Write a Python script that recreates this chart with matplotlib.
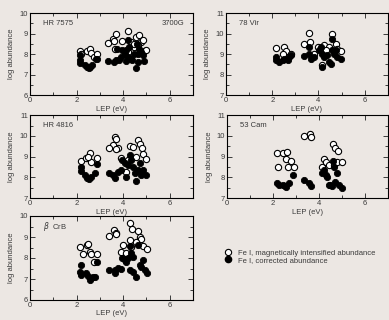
import matplotlib
matplotlib.use("Agg")
import matplotlib.pyplot as plt
from matplotlib.lines import Line2D
from matplotlib.ticker import MultipleLocator

plt.rcParams['font.family'] = ['Liberation Sans', 'DejaVu Sans']

BG = "#ece7e3"
INK = "#3a3a3a"

# ---------------- data ----------------
# HR 7575
hr7575_open_x = [2.17, 2.2, 2.43, 2.57, 2.63, 2.75, 2.86, 3.35, 3.58, 3.68, 3.61, 3.67, 3.94, 4.23,
                 4.36, 4.55, 4.7, 4.77, 4.84, 4.91, 4.99, 4.62, 4.45, 4.19, 4.48]
hr7575_open_y = [8.15, 8.0, 8.15, 8.25, 8.07, 7.86, 7.99, 8.56, 8.72, 8.96, 8.64, 8.27, 8.64, 9.13,
                 8.59, 8.83, 8.92, 8.59, 8.70, 8.15, 8.19, 8.43, 8.35, 8.1, 8.5]
hr7575_fill_x = [2.17, 2.14, 2.17, 2.38, 2.46, 2.53, 2.6, 2.67, 2.82, 2.89, 3.35, 3.61, 3.68, 3.82,
                 3.9, 4.07, 4.12, 4.19, 4.26, 4.19, 4.33, 4.4, 4.12, 4.55, 4.62, 4.65, 4.69, 4.77,
                 4.84, 4.91, 4.59, 4.45, 3.97, 3.75]
hr7575_fill_y = [7.94, 7.7, 7.57, 7.46, 7.38, 7.3, 7.38, 7.49, 7.78, 7.78, 7.65, 7.62, 7.7, 7.73,
                 7.86, 8.02, 8.19, 8.67, 8.35, 7.86, 7.78, 7.7, 7.65, 7.3, 7.62, 8.02, 8.27, 8.1,
                 7.94, 7.65, 8.5, 8.02, 8.19, 8.27]

# 78 Vir
vir_open_x = [2.17, 2.53, 2.6, 2.46, 2.81, 3.39, 3.6, 3.64, 3.96, 4.17, 4.24, 4.46, 4.6, 4.74,
              4.81, 4.96, 3.81, 4.31]
vir_open_y = [9.3, 9.35, 9.15, 9.02, 9.02, 9.48, 10.03, 9.59, 9.35, 8.46, 9.43, 9.35, 10.0, 9.51,
              9.27, 9.15, 9.02, 9.18]
vir_fill_x = [2.17, 2.17, 2.31, 2.46, 2.53, 2.67, 2.74, 2.81, 3.39, 3.6, 3.67, 3.6, 3.81, 4.03,
              4.17, 4.17, 4.24, 4.39, 4.46, 4.53, 4.6, 4.6, 4.67, 4.81, 4.96, 4.1, 4.74]
vir_fill_y = [8.86, 8.7, 8.62, 8.7, 8.78, 8.7, 8.86, 8.94, 8.9, 9.02, 8.78, 9.35, 8.86, 9.18,
              9.02, 8.38, 8.86, 8.94, 8.62, 8.54, 9.18, 9.75, 9.02, 8.86, 8.78, 9.35, 9.18]

# HR 4816
hr4816_open_x = [2.21, 2.4, 2.57, 2.64, 2.5, 2.86, 3.79, 3.64, 3.71, 3.57, 3.71, 3.4, 3.93, 4.19,
                 4.29, 4.43, 4.64, 4.74, 4.83, 4.86, 5.0, 4.57, 4.14]
hr4816_open_y = [8.79, 8.92, 9.19, 8.76, 9.0, 8.95, 9.4, 9.93, 9.83, 9.56, 9.35, 9.4, 8.95, 8.84,
                 9.51, 9.45, 9.8, 9.59, 9.4, 9.11, 8.87, 9.0, 8.28]
hr4816_fill_x = [2.21, 2.21, 2.36, 2.43, 2.54, 2.64, 2.79, 2.86, 3.4, 3.57, 3.64, 3.79, 3.93, 3.97,
                 4.14, 4.21, 4.29, 4.36, 4.43, 4.5, 4.57, 4.64, 4.71, 4.79, 4.86, 5.0, 4.07]
hr4816_fill_y = [8.52, 8.33, 8.12, 7.96, 7.93, 8.04, 8.2, 8.63, 8.23, 8.12, 7.96, 8.28, 8.36, 8.84,
                 8.04, 8.6, 9.08, 8.84, 8.52, 8.2, 7.83, 8.36, 8.68, 8.12, 8.36, 8.12, 8.68]

# 53 Cam
cam_open_x = [2.19, 2.43, 2.61, 2.57, 2.79, 2.21, 2.64, 2.9, 3.36, 3.61, 3.67, 4.14, 4.21, 4.29,
              4.43, 4.61, 4.71, 4.81, 4.64, 4.79, 5.0]
cam_open_y = [9.16, 9.16, 9.24, 8.89, 8.79, 8.49, 8.49, 8.49, 9.99, 10.07, 9.93, 8.52, 8.89, 8.73,
              8.6, 9.59, 9.43, 9.27, 8.6, 8.73, 8.73]
cam_fill_x = [2.19, 2.24, 2.43, 2.5, 2.57, 2.71, 2.86, 3.36, 3.57, 3.64, 4.14, 4.21, 4.29, 4.36,
              4.43, 4.57, 4.61, 4.64, 4.71, 4.79, 4.86, 5.0, 4.5]
cam_fill_y = [7.72, 7.64, 7.64, 7.56, 7.52, 7.72, 8.12, 7.88, 7.72, 7.56, 8.2, 8.36, 8.12, 8.04,
              7.64, 7.56, 8.79, 8.52, 7.76, 8.2, 7.64, 7.48, 7.64]

# beta CrB
crb_open_x = [2.17, 2.26, 2.43, 2.5, 2.57, 2.64, 2.86, 2.74, 3.4, 3.61, 3.69, 3.71, 3.9, 4.0,
              4.14, 4.29, 4.4, 4.64, 4.71, 4.79, 4.57, 4.86, 5.03, 4.29, 4.36]
crb_open_y = [8.51, 8.19, 8.62, 8.65, 8.3, 8.17, 8.19, 7.83, 9.05, 9.33, 9.21, 9.13, 8.3, 8.62,
              8.25, 9.68, 9.37, 9.29, 8.98, 8.89, 8.78, 8.57, 8.41, 8.86, 8.54]
crb_fill_x = [2.21, 2.17, 2.21, 2.4, 2.5, 2.57, 2.69, 2.79, 2.86, 3.4, 3.64, 3.64, 3.79, 3.93,
              3.97, 4.14, 4.21, 4.29, 4.36, 4.43, 4.29, 4.43, 4.57, 4.64, 4.71, 4.79, 4.86, 4.93,
              5.03, 4.07]
crb_fill_y = [7.67, 7.35, 7.19, 7.3, 7.14, 6.95, 7.08, 7.11, 7.83, 7.43, 7.27, 7.43, 7.51, 7.46,
              7.98, 7.83, 7.98, 8.57, 8.22, 8.06, 7.43, 7.35, 7.11, 8.62, 7.67, 7.59, 7.9, 7.43,
              7.3, 7.9]

# ---------------- figure ----------------
fig = plt.figure(figsize=(3.89, 3.2), dpi=100, facecolor=BG)

panels = [
    # rect, name, ylim, open, filled, extra label
    ([0.077, 0.703, 0.419, 0.256], "HR 7575", (6, 10), hr7575_open_x, hr7575_open_y,
     hr7575_fill_x, hr7575_fill_y, "3700G"),
    ([0.581, 0.703, 0.416, 0.256], "78 Vir", (7, 11), vir_open_x, vir_open_y,
     vir_fill_x, vir_fill_y, None),
    ([0.077, 0.381, 0.419, 0.259], "HR 4816", (7, 11), hr4816_open_x, hr4816_open_y,
     hr4816_fill_x, hr4816_fill_y, None),
    ([0.584, 0.381, 0.413, 0.259], "53 Cam", (7, 11), cam_open_x, cam_open_y,
     cam_fill_x, cam_fill_y, None),
    ([0.077, 0.0625, 0.419, 0.2625], r"$\beta$  CrB", (6, 10), crb_open_x, crb_open_y,
     crb_fill_x, crb_fill_y, None),
]

fs = 5.5
ms = 4.5
for rect, name, ylim, ox, oy, fx, fy, extra in panels:
    ax = fig.add_axes(rect)
    ax.set_facecolor(BG)
    ax.plot(ox, oy, 'o', ms=ms, mfc='white', mec='black', mew=0.8, ls='none')
    ax.plot(fx, fy, 'o', ms=ms, mfc='black', mec='black', mew=0.6, ls='none')
    ax.set_xlim(0, 7)
    ax.set_ylim(*ylim)
    ax.xaxis.set_major_locator(MultipleLocator(2))
    ax.xaxis.set_minor_locator(MultipleLocator(1))
    ax.yaxis.set_major_locator(MultipleLocator(1))
    ax.yaxis.set_minor_locator(MultipleLocator(0.5))
    ax.tick_params(which='both', direction='in', top=True, right=True,
                   labelsize=fs, colors=INK, pad=1.5, width=0.7)
    ax.tick_params(which='major', length=3.5)
    ax.tick_params(which='minor', length=2)
    for s in ax.spines.values():
        s.set_linewidth(0.8)
        s.set_color('black')
    ax.set_xlabel("LEP (eV)", fontsize=fs, color=INK, labelpad=1)
    ax.set_ylabel("log abundance", fontsize=fs, color=INK, labelpad=3)
    ax.text(0.08, 0.87, name, transform=ax.transAxes, fontsize=fs, color=INK, va='center')
    if extra:
        ax.text(0.95, 0.87, extra, transform=ax.transAxes, fontsize=fs, color=INK,
                va='center', ha='right')

handles = [
    Line2D([], [], marker='o', ms=ms, mfc='white', mec='black', mew=0.8, ls='none'),
    Line2D([], [], marker='o', ms=ms, mfc='black', mec='black', ls='none'),
]
labels = ["Fe I, magnetically intensified abundance", "Fe I, corrected abundance"]
leg = fig.legend(handles, labels, loc='upper left', bbox_to_anchor=(0.57, 0.23),
                 frameon=False, fontsize=fs, handlelength=0.8, handletextpad=0.9,
                 labelspacing=0.0, borderaxespad=0)
for t in leg.get_texts():
    t.set_color(INK)

fig.savefig("out.png", dpi=100, facecolor=BG)
